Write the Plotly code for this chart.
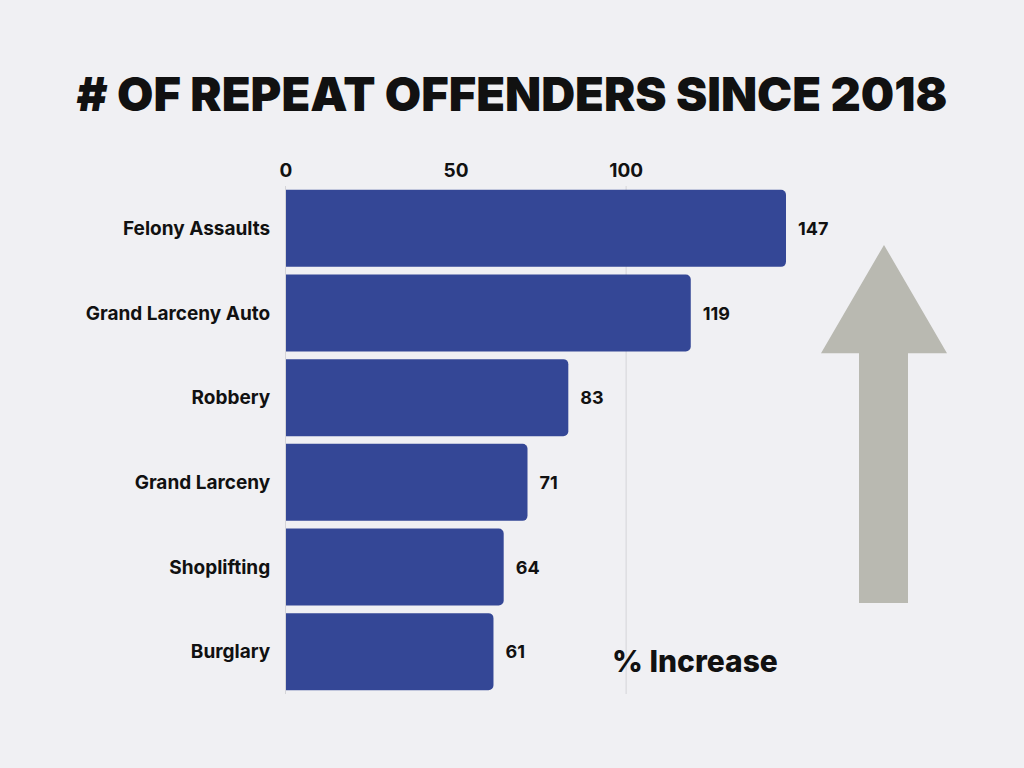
import plotly.graph_objects as go

categories = ["Felony Assaults", "Grand Larceny Auto", "Robbery", "Grand Larceny", "Shoplifting", "Burglary"]
increase = [147, 119, 83, 71, 64, 61]
tick_values = [0, 50, 100]

BG = "#f0f0f3"
BAR = "#344796"
FONT = "Inter"

fig = go.Figure()
fig.add_trace(go.Bar(
    x=increase,
    y=categories,
    orientation="h",
    marker=dict(color=BAR, line=dict(width=0), cornerradius=5),
    text=["\u2002" + str(v) for v in increase],
    textposition="outside",
    textfont=dict(family=FONT, size=18, color="#111111", weight=700),
    cliponaxis=False,
))

# only the 100 line is drawn as a grid line
fig.add_vline(x=100, line=dict(color="#d4d4d8", width=1), layer="below")

# grey arrow decoration
fig.add_shape(
    type="path",
    xref="paper", yref="paper",
    path="M 1.196 0.884 L 1.070 0.671 L 1.146 0.671 L 1.146 0.179 L 1.244 0.179 L 1.244 0.671 L 1.322 0.671 Z",
    fillcolor="#b9b9b1", line=dict(width=0), layer="below",
)

fig.add_annotation(
    text="% Increase", xref="paper", yref="paper",
    x=0.818, y=0.064, xanchor="center", yanchor="middle",
    showarrow=False, font=dict(family=FONT, size=30, color="#111111", weight=800),
)

fig.update_layout(
    width=1024, height=768,
    paper_bgcolor=BG, plot_bgcolor=BG,
    margin=dict(l=286, r=238, t=186, b=74),
    title=dict(
        text="# OF REPEAT OFFENDERS SINCE 2018",
        x=0.5, xanchor="center", y=0.877, yanchor="middle",
        font=dict(family=FONT, size=47, color="#111111", weight=900),
    ),
    bargap=0.09,
    showlegend=False,
)
fig.update_xaxes(
    side="top", range=[0, 147], tickvals=tick_values,
    showgrid=False, zeroline=False,
    showline=True, linecolor="rgba(0,0,0,0)",
    tickfont=dict(family=FONT, size=19, color="#111111", weight=700),
    ticks="", ticklabelstandoff=0,
)
fig.update_yaxes(
    autorange="reversed", showgrid=False,
    showline=True, linecolor="#d4d4d8", linewidth=1,
    tickfont=dict(family=FONT, size=19, color="#111111", weight=700),
    ticks="", ticklabelstandoff=11,
)

fig.write_html("out.html", config={"displayModeBar": False},
               post_script="document.body.style.margin='0';")
